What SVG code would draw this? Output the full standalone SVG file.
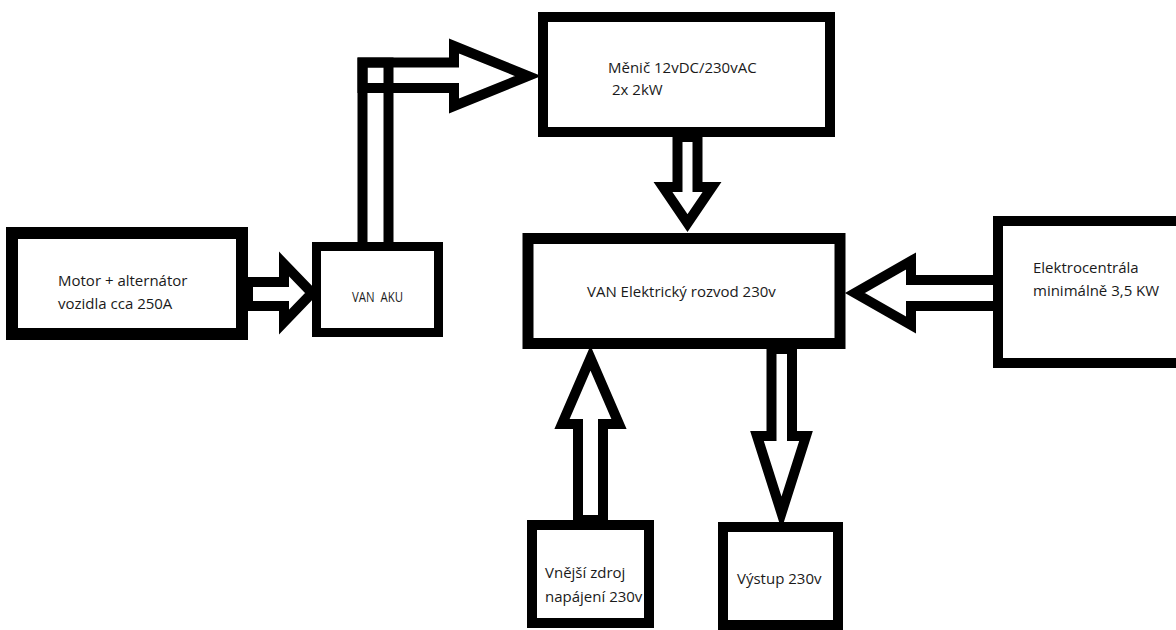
<svg xmlns="http://www.w3.org/2000/svg" width="1176" height="630" viewBox="0 0 1176 630">
<style>
.box{fill:#fff;stroke:#000;stroke-linejoin:miter}
.arr{fill:#fff;stroke:#000;stroke-width:10;stroke-linejoin:miter;stroke-miterlimit:10}
.arrn{fill:none;stroke:#000;stroke-width:10}
text{font-family:"Open Sans","Noto Sans",sans-serif;font-size:15px;fill:#1a1a1a}
</style>
<rect width="1176" height="630" fill="#fff"/>
<g id="connectors">
<polygon class="arr" points="248,282 284,282 284,264 312,293 284,322 284,306 248,306"/>
<polygon class="arr" points="362.5,62.5 454,62.5 454,46 528,76 454,106 454,88 362.5,88"/>
<rect class="arrn" x="362.5" y="62.5" width="26" height="185"/>
<polygon class="arr" points="677.5,137 697.5,137 697.5,187 712,187 687.5,223 663,187 677.5,187"/>
<polygon class="arr" points="998,280 911,280 911,261 855,293 911,325 911,306 998,306"/>
<polygon class="arr" points="578,520 603,520 603,424 619,424 590.5,358 562,424 578,424"/>
<polygon class="arr" points="771.5,349 792,349 792,436 806,436 781.5,513 757,436 771.5,436"/>
</g>
<g id="motor">
<rect class="box" x="12" y="233" width="230" height="101" stroke-width="12"/>
<text x="58" y="286">Motor + alternátor</text>
<text x="58" y="309">vozidla cca 250A</text>
</g>
<g id="aku">
<rect class="box" x="316.5" y="246.5" width="122" height="86" stroke-width="9"/>
<text x="352" y="302" font-size="12.5" textLength="51" lengthAdjust="spacingAndGlyphs" xml:space="preserve">VAN  AKU</text>
</g>
<g id="menic">
<rect class="box" x="543" y="17" width="287" height="115" stroke-width="10"/>
<text x="608" y="73">Měnič 12vDC/230vAC</text>
<text x="612" y="95">2x 2kW</text>
</g>
<g id="rozvod">
<rect class="box" x="528" y="238.5" width="312" height="105" stroke-width="11"/>
<text x="587" y="297">VAN Elektrický rozvod 230v</text>
</g>
<g id="elektrocentrala">
<rect class="box" x="998" y="221" width="200" height="142" stroke-width="10"/>
<text x="1033" y="273">Elektrocentrála</text>
<text x="1033" y="296">minimálně 3,5 KW</text>
</g>
<g id="vnejsi">
<rect class="box" x="532" y="525" width="117" height="98" stroke-width="10"/>
<text x="545" y="578">Vnější zdroj</text>
<text x="545" y="602">napájení 230v</text>
</g>
<g id="vystup">
<rect class="box" x="723" y="527" width="115" height="98" stroke-width="10"/>
<text x="737" y="584">Výstup 230v</text>
</g>
</svg>
